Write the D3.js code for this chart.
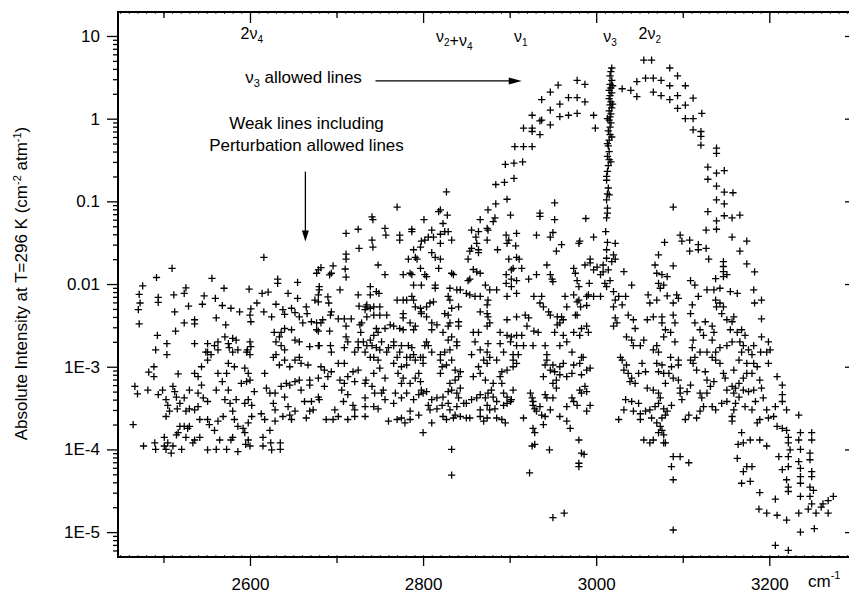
<!DOCTYPE html>
<html>
<head>
<meta charset="utf-8">
<script src="https://cdn.jsdelivr.net/npm/d3@7"></script>
<style>
  body { margin: 0; background: #fff; }
  svg { font-family: "Liberation Sans", Arial, sans-serif; }
</style>
</head>
<body>
<svg id="chart"></svg>
<script>
// line positions (cm-1) and absolute intensities

var nu3Q = [
  [3018,4.1],[3017,3.7],[3016,3.3],[3018,2.9],[3016,2.6],[3017,2.35],[3015,2.2],[3018,2.05],[3016,1.9],[3015,1.75],
  [3017,1.6],[3016,1.47],[3018,1.35],[3015,1.24],[3017,1.14],[3016,1.05],[3015,0.96],[3017,0.89],[3016,0.79],[3014,0.71],
  [3016,0.64],[3015,0.55],[3014,0.47],[3015,0.40],[3013,0.35],[3015,0.32],[3014,0.27],[3013,0.23],[3012,0.18],[3014,0.145],
  [3013,0.123],[3012,0.104],[3013,0.083],[3012,0.063],[3011,0.043],[3013,0.032],[3012,0.026],
  [3019,2.5],[3019,1.5],[3013,1.0],[3018,0.6],[3013,0.5],[3017,0.3],[3012,0.2],[3015,0.12],[3013,0.072]
];

var strongLines = [
  [2978,2.9],[2987,2.6],[2956,2.55],[2947,2.1],[2937,1.7],[2958,1.5],[2968,1.8],[2978,1.8],[2987,1.6],[2947,1.27],
  [2937,0.96],[2926,1.1],[2926,0.77],[2916,0.77],[2935,0.64],[2958,1.06],[2968,1.1],[2978,1.16],[2997,1.1],[2999,0.77],
  [2947,0.84],[2916,0.46],[2926,0.46],[2906,0.46],[2935,0.94],[2926,0.70],
  [2895,0.28],[2905,0.29],[2915,0.30],[2884,0.16],[2894,0.17],[2905,0.19],[2827,0.13],[2897,0.106],[2884,0.093],[2875,0.079],
  [2883,0.063],[2881,0.057],[2901,0.068],[2952,0.096],[2935,0.072],[2935,0.066],[2952,0.060],[2988,0.062],
  [3030,2.3],[3040,2.2],[3047,2.8],[3047,1.85],[3055,5.1],[3064,5.1],[3057,3.1],[3066,3.1],[3075,2.9],[3085,4.1],
  [3094,3.3],[3066,2.1],[3075,1.9],[3085,2.5],[3085,1.7],[3094,1.9],[3103,2.5],[3094,1.33],[3103,1.46],[3112,1.77],
  [3103,1.0],[3112,1.0],[3122,1.16],[3112,0.73],[3121,0.70],[3121,0.61],[3121,0.48],[3139,0.44],[3139,0.38],
  [3129,0.26],[3129,0.185],[3139,0.22],[3148,0.235],[3139,0.153],[3148,0.129],[3158,0.127],[3139,0.104],[3148,0.093],
  [3129,0.075],[3139,0.058],[3148,0.067],[3157,0.063],[3166,0.068],[3127,0.045],[3139,0.046],[3157,0.037],[3174,0.033],
  [3166,0.025],[3174,0.0175],[3183,0.014]
];

var weakLow = [
  [2725,0.046],[2711,0.041],[2726,0.027],[2616,0.021],[2711,0.023],[2711,0.020],[2510,0.0155],[2492,0.012],[2476,0.0095],[2472,0.0075],
  [2473,0.0059],[2471,0.0049],[2494,0.0069],[2494,0.0060],[2512,0.0074],[2513,0.0046],[2526,0.009],[2524,0.0077],[2529,0.0054],[2524,0.0034],
  [2536,0.0037],[2536,0.0033],[2472,0.0033],[2514,0.0027],[2493,0.0024],[2491,0.0016],[2504,0.0019],[2504,0.0014],[2536,0.0019],[2547,0.0072],
  [2545,0.0057],[2556,0.0117],[2570,0.0089],[2560,0.0067],[2561,0.0039],[2568,0.0055],[2572,0.0032],[2578,0.0051],[2588,0.0046],[2599,0.0087],
  [2601,0.0050],[2600,0.0042],[2601,0.0035],[2608,0.0059],[2614,0.0077],[2621,0.008],[2616,0.0046],[2632,0.0115],[2632,0.0102],[2630,0.0057],
  [2625,0.0040],[2638,0.0049],[2640,0.0043],[2644,0.0077],[2648,0.0051],[2652,0.0045],[2655,0.0105],[2655,0.0067],[2665,0.0053],[2666,0.0044],
  [2661,0.0034],[2657,0.0040],[2679,0.0148],[2682,0.0158],[2677,0.0135],[2696,0.0166],[2694,0.0135],[2692,0.0129],[2710,0.0152],[2711,0.0121],
  [2704,0.0085],[2680,0.0093],[2680,0.0085],[2679,0.0074],[2675,0.0064],[2679,0.0061],[2690,0.0070],[2691,0.0059],[2694,0.0046],[2693,0.0042],
  [2671,0.0035],[2677,0.0034],[2682,0.0034],[2684,0.0037],[2702,0.0038],[2709,0.0038],[2717,0.0038],[2711,0.0031],[2725,0.0074],[2726,0.0054],
  [2727,0.0032],[2728,0.0026],[2734,0.0053],[2677,0.0028],[2679,0.0027],[2692,0.0027],[2640,0.0029],[2636,0.0026],[2634,0.0023],[2630,0.0020],
  [2628,0.0026],[2648,0.0028],[2652,0.0021],[2657,0.0020],[2669,0.00175],[2680,0.0018],[2693,0.0018],[2694,0.0015],[2709,0.0017],[2713,0.0020],
  [2711,0.0023],[2725,0.0020],[2725,0.0017],[2721,0.0015],[2733,0.0015],[2600,0.0020],[2601,0.00175],[2597,0.0016],[2596,0.0015],[2600,0.0014],
  [2580,0.0022],[2584,0.0021],[2575,0.0019],[2571,0.0023],[2563,0.0020],[2559,0.0018],[2563,0.0016],[2551,0.0019],[2549,0.0015],[2551,0.0015],
  [2576,0.0017],[2580,0.0015],[2586,0.0016],
  [2489,0.0010],[2483,8.6e-4],[2489,7.6e-4],[2517,8.2e-4],[2467,5.8e-4],[2470,4.7e-4],[2482,5.2e-4],[2465,2.0e-4],[2494,4.6e-4],[2499,5.2e-4],
  [2503,4.0e-4],[2511,5.8e-4],[2513,5.0e-4],[2515,4.3e-4],[2505,3.4e-4],[2507,2.9e-4],[2503,2.5e-4],[2516,3.1e-4],[2519,3.6e-4],[2524,4.2e-4],
  [2530,5.2e-4],[2540,4.8e-4],[2526,2.9e-4],[2530,3.1e-4],[2536,3.0e-4],[2540,3.3e-4],[2544,6.0e-4],[2546,4.2e-4],[2551,3.8e-4],[2536,8.3e-4],
  [2540,7.6e-4],[2544,0.0010],[2551,0.0012],[2555,0.0014],[2563,8.3e-4],[2573,8.3e-4],[2561,5.2e-4],[2575,0.0011],[2582,0.0010],[2568,6.6e-4],
  [2575,5.2e-4],[2571,4.0e-4],[2577,3.6e-4],[2580,2.9e-4],[2582,2.3e-4],[2594,3.6e-4],[2598,4.0e-4],[2602,3.4e-4],[2584,4.0e-4],[2594,9.6e-4],
  [2598,8.3e-4],[2600,6.9e-4],[2590,6.3e-4],[2596,6.6e-4],[2605,5.0e-4],[2617,8.3e-4],[2619,5.5e-4],[2613,2.7e-4],[2617,2.3e-4],[2602,2.5e-4],
  [2598,2.1e-4],[2592,1.8e-4],[2594,1.6e-4],[2586,1.9e-4],[2598,1.3e-4],[2600,1.1e-4],[2595,1.15e-4],[2586,9.4e-5],[2578,1.3e-4],[2580,1.4e-4],
  [2573,1.0e-4],[2565,1.3e-4],[2561,1.0e-4],[2551,9.9e-5],[2559,1.7e-4],[2553,2.0e-4],[2551,2.3e-4],[2569,2.5e-4],[2563,2.2e-4],[2542,2.3e-4],
  [2542,1.4e-4],[2534,1.2e-4],[2536,1.3e-4],[2528,1.8e-4],[2526,1.4e-4],[2521,1.0e-4],[2511,1.1e-4],[2509,9.0e-5],[2515,1.5e-4],[2517,1.6e-4],
  [2519,1.9e-4],[2524,1.9e-4],[2530,1.9e-4],[2501,1.4e-4],[2501,1.1e-4],[2503,1.0e-4],[2490,1.2e-4],[2491,1.0e-4],[2477,1.1e-4],[2505,1.2e-4],
  [2615,1.4e-4],[2615,1.1e-4],[2624,1.2e-4],[2625,9.9e-5],[2635,1.2e-4],[2635,1.0e-4],[2623,1.7e-4],[2629,2.2e-4],[2629,3.0e-4],[2627,3.6e-4],
  [2623,4.8e-4],[2629,4.8e-4],[2636,5.8e-4],[2642,6.3e-4],[2646,6.0e-4],[2640,4.3e-4],[2644,3.3e-4],[2646,2.6e-4],[2638,2.5e-4],[2648,2.3e-4],
  [2652,2.9e-4],[2634,0.00105],[2640,0.0012],[2646,0.0010],[2636,0.0018],[2640,0.0016],[2630,0.0014],[2627,0.0013],[2652,0.0012],[2659,0.0011],
  [2667,0.00105],[2657,0.0013],[2652,6.6e-4],[2657,6.9e-4],[2669,6.9e-4],[2659,5.2e-4],[2663,3.8e-4],[2671,3.8e-4],[2669,6.0e-4],[2673,3.0e-4],
  [2669,2.9e-4],[2665,2.4e-4],[2679,0.0018],[2679,4.3e-4],[2680,4.0e-4],[2682,0.0010],[2686,9.1e-4],[2694,8.7e-4],[2690,7.6e-4],[2702,0.0011],
  [2709,0.0011],[2704,6.9e-4],[2709,6.3e-4],[2713,7.6e-4],[2706,5.2e-4],[2713,4.6e-4],[2708,3.8e-4],[2698,3.0e-4],[2702,2.5e-4],[2713,2.3e-4],
  [2688,2.3e-4],[2696,2.3e-4],[2721,2.5e-4],[2721,3.0e-4],[2719,3.4e-4],[2733,2.5e-4],[2733,3.3e-4],[2733,4.2e-4],[2719,8.7e-4],[2725,9.1e-4],
  [2734,6.9e-4],[2733,6.3e-4],[2721,6.6e-4],[2679,7.3e-4],[2686,5.8e-4]
];

var weakMid = [
  [2770,0.085],[2741,0.065],[2742,0.060],[2801,0.060],[2820,0.079],[2818,0.075],[2828,0.068],[2823,0.054],[2756,0.047],[2757,0.039],
  [2773,0.039],[2773,0.034],[2787,0.046],[2787,0.043],[2810,0.045],[2812,0.037],[2806,0.037],[2802,0.034],[2798,0.033],[2820,0.040],
  [2825,0.043],[2829,0.043],[2833,0.034],[2820,0.031],[2741,0.034],[2742,0.028],[2856,0.045],[2864,0.043],[2874,0.047],[2875,0.045],
  [2874,0.034],[2866,0.060],[2861,0.037],[2862,0.031],[2856,0.027],[2886,0.026],[2897,0.031],[2899,0.034],[2896,0.039],[2908,0.041],
  [2907,0.029],[2931,0.039],[2950,0.042],[2947,0.037],[2960,0.030],[2954,0.025],[2981,0.033],[2980,0.031],[2997,0.037],
  [2789,0.026],[2791,0.021],[2793,0.020],[2797,0.0155],[2783,0.020],[2785,0.0135],[2787,0.013],[2777,0.013],[2797,0.028],[2810,0.024],
  [2814,0.021],[2820,0.020],[2818,0.0155],[2833,0.0135],[2835,0.013],[2748,0.017],[2756,0.013],[2802,0.013],[2804,0.0123],[2852,0.020],
  [2854,0.025],[2864,0.024],[2864,0.026],[2858,0.015],[2862,0.014],[2866,0.0135],[2852,0.011],[2854,0.0115],[2899,0.020],[2902,0.0148],
  [2904,0.0155],[2914,0.0155],[2911,0.020],[2908,0.021],[2896,0.013],[2896,0.0102],[2902,0.0115],[2908,0.011],[2922,0.0115],[2931,0.013],
  [2943,0.017],[2947,0.013],[2949,0.0115],[2950,0.0107],[2974,0.0155],[2976,0.0135],[2978,0.011],[2980,0.0093],[2987,0.017],[2993,0.018],
  [2993,0.020],[3001,0.016],[2997,0.0148],[3008,0.014],[3005,0.013],[3010,0.0102],[3012,0.0093],[2992,0.0102],[2991,0.0074],[2997,0.0071],
  [3005,0.0071],[2980,0.0064],[2989,0.0055],[2982,0.0053],[2976,0.0042],[2739,0.0093],[2746,0.0081],[2749,0.0077],[2739,0.0074],[2735,0.0056],
  [2739,0.0051],[2743,0.0053],[2750,0.0053],[2733,0.0049],[2735,0.0040],[2743,0.0042],[2750,0.0042],[2758,0.0042],[2770,0.0064],[2777,0.0064],
  [2781,0.0064],[2787,0.0071],[2789,0.0064],[2791,0.0053],[2789,0.0097],[2798,0.0097],[2814,0.0097],[2814,0.0089],[2831,0.0089],[2839,0.0085],
  [2843,0.0085],[2808,0.0059],[2812,0.0061],[2804,0.0053],[2797,0.0051],[2798,0.0046],[2829,0.0071],[2831,0.0064],[2841,0.0053],[2833,0.0051],
  [2777,0.0044],[2777,0.0039],[2785,0.0034],[2791,0.0031],[2789,0.0028],[2777,0.0028],[2773,0.0029],[2766,0.0031],[2798,0.0044],[2804,0.0040],
  [2810,0.0034],[2816,0.0032],[2810,0.0028],[2825,0.0044],[2829,0.0042],[2831,0.0034],[2829,0.0031],[2841,0.0035],[2841,0.0031],[2850,0.0077],
  [2854,0.0074],[2860,0.0071],[2866,0.0071],[2872,0.0097],[2877,0.0085],[2875,0.0064],[2874,0.0056],[2866,0.0046],[2874,0.0044],[2875,0.0040],
  [2877,0.0034],[2874,0.0031],[2885,0.0085],[2897,0.0071],[2908,0.0077],[2902,0.0093],[2897,0.0037],[2908,0.0040],[2918,0.0042],[2922,0.0039],
  [2928,0.0071],[2937,0.0071],[2935,0.0059],[2939,0.0053],[2945,0.0046],[2947,0.0042],[2955,0.0040],[2960,0.0040],[2958,0.0034],[2955,0.0032],
  [2962,0.0037],[2964,0.0071],[2974,0.0074],[2978,0.0061],[2989,0.0071],[2978,0.0042],[2966,0.0053],[2952,0.0026],[2962,0.0024],[2974,0.0026],
  [2981,0.0024],[2991,0.0026],[2958,0.0018],[2966,0.0020],[2972,0.0015],[2983,0.0029],[2989,0.0031],[2983,0.0013],[2941,0.0018],[2943,0.0014],
  [2920,0.0031],[2928,0.0027],[2933,0.0026],[2914,0.0024],[2889,0.0026],[2897,0.0024],[2902,0.0023],[2908,0.0024],[2889,0.0019],[2901,0.0020],
  [2908,0.0018],[2916,0.0018],[2927,0.0018],[2893,0.0015],[2904,0.0014],[2910,0.0014],[2858,0.0026],[2864,0.0026],[2860,0.0020],[2866,0.0016],
  [2874,0.0015],[2875,0.0019],[2856,0.0014],[2823,0.0026],[2829,0.0021],[2833,0.0023],[2839,0.0020],[2839,0.0018],[2831,0.0016],[2825,0.0015],
  [2820,0.0014],[2804,0.0020],[2806,0.0018],[2802,0.0018],[2810,0.0015],[2800,0.0013],[2783,0.0018],[2787,0.0017],[2789,0.0014],[2781,0.0013],
  [2773,0.0015],[2775,0.0018],[2766,0.0020],[2766,0.0018],[2760,0.0017],[2758,0.0015],[2752,0.0020],[2748,0.0026],[2743,0.0024],[2739,0.0021],
  [2735,0.0018],[2731,0.0020],[2741,0.0018],[2746,0.0017],[2750,0.0016],[2739,0.0013],[2746,0.0029],[2756,0.0029],[2762,0.0032],[2729,0.0034]
];

var weakMidLow = [
  [2743,0.0013],[2748,0.0012],[2750,9.6e-4],[2743,8.3e-4],[2756,7.3e-4],[2754,5.2e-4],[2744,4.8e-4],[2743,3.3e-4],[2748,3.1e-4],[2756,4.0e-4],
  [2766,3.6e-4],[2741,5.8e-4],[2752,4.8e-4],[2760,2.2e-4],[2770,2.3e-4],[2775,2.4e-4],[2785,2.3e-4],[2779,2.1e-4],[2795,2.6e-4],[2785,2.9e-4],
  [2800,1.6e-4],[2810,2.1e-4],[2808,3.0e-4],[2806,3.4e-4],[2816,3.1e-4],[2766,0.0011],[2770,0.0013],[2775,0.0010],[2781,0.00105],[2785,0.0013],
  [2791,0.0012],[2797,0.0013],[2800,0.0011],[2771,8.3e-4],[2775,6.3e-4],[2777,7.3e-4],[2785,6.3e-4],[2781,4.8e-4],[2775,4.2e-4],[2768,4.8e-4],
  [2791,7.3e-4],[2795,8.3e-4],[2797,6.6e-4],[2798,5.2e-4],[2795,4.6e-4],[2800,4.8e-4],[2804,5.0e-4],[2789,4.0e-4],[2810,4.0e-4],[2816,4.2e-4],
  [2823,4.3e-4],[2822,3.4e-4],[2829,3.6e-4],[2831,3.0e-4],[2823,2.5e-4],[2827,2.3e-4],[2835,2.4e-4],[2837,2.6e-4],[2843,2.5e-4],[2850,2.4e-4],
  [2854,2.4e-4],[2839,3.3e-4],[2847,3.6e-4],[2820,0.0012],[2822,0.0010],[2820,8.3e-4],[2827,0.00105],[2833,0.0012],[2837,9.1e-4],[2843,8.7e-4],
  [2841,7.6e-4],[2837,6.9e-4],[2831,6.3e-4],[2833,5.2e-4],[2839,4.8e-4],[2841,4.2e-4],[2843,5.5e-4],[2829,5.0e-4],[2833,1.0e-4],[2833,4.9e-5],
  [2850,3.6e-4],[2856,4.0e-4],[2862,4.2e-4],[2866,4.6e-4],[2872,4.2e-4],[2875,4.8e-4],[2881,4.3e-4],[2879,5.2e-4],[2877,3.0e-4],[2883,3.1e-4],
  [2874,3.4e-4],[2866,3.0e-4],[2866,2.5e-4],[2874,2.4e-4],[2870,2.2e-4],[2885,2.4e-4],[2891,2.3e-4],[2895,2.1e-4],[2858,7.6e-4],[2866,8.3e-4],
  [2864,0.0010],[2870,0.0012],[2874,0.0011],[2877,0.0013],[2885,0.0012],[2872,6.9e-4],[2881,6.3e-4],[2889,7.6e-4],[2891,8.7e-4],[2897,9.1e-4],
  [2904,0.0010],[2904,0.0012],[2908,0.0011],[2891,6.3e-4],[2897,4.3e-4],[2904,5.2e-4],[2902,4.0e-4],[2893,4.8e-4],[2885,3.8e-4],[2893,3.4e-4],
  [2897,3.6e-4],[2901,3.8e-4],[2916,2.4e-4],[2927,1.8e-4],[2929,1.6e-4],[2924,4.8e-4],[2926,4.2e-4],[2927,3.4e-4],[2929,3.1e-4],[2931,2.9e-4],
  [2935,3.3e-4],[2937,2.6e-4],[2941,2.5e-4],[2947,3.0e-4],[2939,2.0e-4],[2927,3.8e-4],[2943,4.2e-4],[2941,4.6e-4],[2950,4.2e-4],[2954,5.5e-4],
  [2950,6.3e-4],[2958,2.5e-4],[2966,2.2e-4],[2966,3.3e-4],[2972,4.2e-4],[2974,3.8e-4],[2978,3.4e-4],[2983,4.8e-4],[2981,5.2e-4],[2989,5.0e-4],
  [2993,3.4e-4],[2989,2.9e-4],[2970,1.8e-4],[2980,1.3e-4],[2983,9.0e-5],[2986,8.7e-5],[2980,6.8e-5],[2980,6.2e-5],[2946,9.9e-5],[2926,1.1e-4],
  [2929,1.15e-4],[2923,5.2e-5],[2950,1.5e-5],[2963,1.7e-5],[2943,0.0012],[2941,0.00105],[2950,0.00105],[2958,0.0010],[2962,0.0011],[2985,0.0013],
  [2974,0.00105],[2972,8.3e-4],[2966,7.6e-4],[2958,8.0e-4],[2952,8.7e-4],[2947,9.1e-4],[2939,7.6e-4],[2954,6.9e-4],[2981,0.0011],[2989,9.1e-4],
  [2993,9.6e-4],[2983,8.0e-4],[2987,5.8e-4]
];

var weakHigh = [
  [3022,0.031],[3020,0.0225],[3022,0.020],[3018,0.0187],[3012,0.0205],[3008,0.017],[3014,0.0148],[3016,0.011],[3020,0.0081],[3022,0.0064],
  [3020,0.0053],[3026,0.0071],[3032,0.0141],[3034,0.0071],[3030,0.0056],[3041,0.0097],[3022,0.0039],[3024,0.0034],[3020,0.0031],[3037,0.0042],
  [3043,0.0037],[3045,0.0029],[3035,0.0023],[3041,0.0021],[3043,0.0018],[3051,0.0018],[3055,0.0021],[3028,0.0013],[3089,0.085],[3079,0.032],
  [3072,0.0225],[3068,0.017],[3070,0.0135],[3076,0.013],[3082,0.0123],[3089,0.0166],[3072,0.0102],[3078,0.0097],[3074,0.0089],[3060,0.0074],
  [3062,0.0059],[3070,0.0064],[3082,0.0072],[3093,0.0074],[3095,0.0067],[3089,0.0059],[3066,0.0040],[3059,0.0037],[3076,0.0040],[3076,0.0034],
  [3089,0.0042],[3091,0.0034],[3080,0.0028],[3086,0.0026],[3078,0.0023],[3091,0.0020],[3070,0.0018],[3066,0.0016],[3072,0.0015],[3086,0.0013],
  [3097,0.039],[3099,0.033],[3108,0.034],[3108,0.025],[3118,0.030],[3118,0.026],[3127,0.027],[3182,0.0085],[3183,0.0059],[3191,0.0064],
  [3191,0.0038],[3191,0.0023],[3199,0.0020],[3197,0.0015],[3130,0.020],[3147,0.0187],[3147,0.0163],[3147,0.0141],[3147,0.0123],[3138,0.0116],
  [3151,0.013],[3109,0.011],[3114,0.0097],[3118,0.0071],[3111,0.0056],[3109,0.0044],[3128,0.0085],[3136,0.0085],[3143,0.0089],[3138,0.0064],
  [3143,0.0059],[3147,0.0053],[3139,0.0053],[3155,0.0081],[3163,0.0077],[3145,0.0044],[3151,0.0037],[3157,0.0035],[3159,0.0040],[3114,0.0034],
  [3126,0.0035],[3120,0.0028],[3124,0.0024],[3134,0.0031],[3136,0.0026],[3134,0.0021],[3112,0.0021],[3111,0.0017],[3120,0.0015],[3128,0.0015],
  [3138,0.0015],[3143,0.0017],[3151,0.0018],[3157,0.0020],[3155,0.0028],[3163,0.0026],[3168,0.0028],[3172,0.0024],[3166,0.0020],[3170,0.0018],
  [3168,0.0015],[3176,0.0016],[3182,0.0018],[3180,0.0014],[3190,0.0015],[3201,0.0016]
];

var weakTail = [
  [3070,0.0011],[3076,0.00105],[3072,8.7e-4],[3078,8.3e-4],[3084,8.3e-4],[3087,0.0010],[3095,0.0012],[3095,0.00105],[3030,0.0012],[3035,0.00105],
  [3032,9.1e-4],[3037,8.3e-4],[3041,7.3e-4],[3045,6.3e-4],[3039,6.6e-4],[3049,8.3e-4],[3053,0.0011],[3057,8.7e-4],[3059,5.5e-4],[3066,5.2e-4],
  [3072,4.8e-4],[3074,4.2e-4],[3072,3.6e-4],[3068,3.3e-4],[3078,3.1e-4],[3082,2.9e-4],[3080,2.6e-4],[3076,2.4e-4],[3074,1.9e-4],[3076,1.7e-4],
  [3072,1.6e-4],[3078,1.5e-4],[3080,1.2e-4],[3066,1.3e-4],[3062,1.2e-4],[3055,1.3e-4],[3034,4.0e-4],[3041,3.8e-4],[3049,3.6e-4],[3032,3.0e-4],
  [3043,2.9e-4],[3051,2.7e-4],[3057,2.9e-4],[3062,3.0e-4],[3026,2.3e-4],[3051,2.3e-4],[3064,2.4e-4],[3070,2.1e-4],[3080,6.3e-4],[3089,7.3e-4],
  [3095,6.9e-4],[3097,4.8e-4],[3099,4.0e-4],[3087,3.4e-4],[3097,5.5e-4],[3103,2.3e-4],[3107,2.6e-4],[3116,2.4e-4],[3120,2.9e-4],[3124,3.3e-4],
  [3134,3.3e-4],[3138,3.0e-4],[3128,4.8e-4],[3132,5.8e-4],[3136,6.6e-4],[3128,6.9e-4],[3126,8.7e-4],[3116,9.1e-4],[3112,0.0011],[3109,0.0012],
  [3114,0.0013],[3134,0.0013],[3138,0.0012],[3143,0.0011],[3147,8.3e-4],[3149,7.3e-4],[3145,3.6e-4],[3151,3.8e-4],[3157,2.5e-4],[3157,2.2e-4],
  [3159,3.0e-4],[3161,3.6e-4],[3165,4.3e-4],[3161,5.5e-4],[3165,6.3e-4],[3170,7.3e-4],[3174,8.3e-4],[3159,9.1e-4],[3165,0.0012],[3174,0.0011],
  [3182,0.0011],[3186,0.0010],[3180,8.3e-4],[3199,0.0011],[3170,5.2e-4],[3176,5.0e-4],[3182,5.2e-4],[3189,6.9e-4],[3191,5.5e-4],[3193,4.2e-4],
  [3184,3.8e-4],[3180,3.0e-4],[3172,3.3e-4],[3168,1.6e-4],[3170,1.2e-4],[3164,1.15e-4],[3178,1.3e-4],[3189,1.3e-4],[3163,7.8e-5],[3174,6.2e-5],
  [3180,6.2e-5],[3170,5.4e-5],[3168,3.9e-5],[3178,4.1e-5],[3189,3.0e-5],[3197,1.1e-4],[3197,3.0e-4],[3189,2.3e-4],[3186,2.1e-4],[3199,2.4e-4],
  [3209,7.6e-4],[3215,6.0e-4],[3215,4.6e-4],[3215,3.8e-4],[3207,3.3e-4],[3205,2.5e-4],[3209,1.9e-4],[3215,1.8e-4],[3220,1.7e-4],[3222,1.4e-4],
  [3222,1.2e-4],[3224,9.9e-5],[3222,8.2e-5],[3211,8.2e-5],[3215,5.7e-5],[3222,6.2e-5],[3220,4.3e-5],[3222,3.5e-5],[3222,3.1e-5],[3236,1.6e-4],
  [3234,1.3e-4],[3236,1.0e-4],[3234,7.1e-5],[3236,5.9e-5],[3236,4.7e-5],[3236,3.9e-5],[3236,2.7e-5],[3220,3.0e-4],[3234,2.6e-4],[3249,1.6e-4],
  [3249,1.3e-4],[3247,9.0e-5],[3247,7.5e-5],[3249,5.4e-5],[3249,4.7e-5],[3247,3.5e-5],[3251,3.2e-5],[3247,2.7e-5],[3249,2.2e-5],[3245,1.9e-5],
  [3254,1.7e-5],[3252,1.1e-5],[3236,1.0e-5],[3234,1.7e-5],[3220,1.4e-5],[3209,1.6e-5],[3197,1.7e-5],[3188,1.9e-5],[3207,2.5e-5],[3262,2.2e-5],
  [3268,2.4e-5],[3274,2.7e-5],[3268,1.7e-5],[3260,2.0e-5],[3089,8.2e-5],[3097,8.2e-5],[3087,6.2e-5],[3089,4.3e-5],[3107,6.9e-5],[3089,1.06e-5],
  [3078,1.2e-4],[3109,6.0e-4],[3105,5.0e-4],[3120,4.8e-4],[3122,4.2e-4],[3151,5.2e-4],[3157,5.8e-4],[3159,4.8e-4],[3207,6.9e-6],[3222,6.0e-6]
];

var xTicks = [2600, 2800, 3000, 3200];
var yTicks = [1e-5, 1e-4, 1e-3, 0.01, 0.1, 1, 10];
var yTickLabels = ["1E-5", "1E-4", "1E-3", "0.01", "0.1", "1", "10"];
var bandLabels = ["2\u03bd_4", "\u03bd_2+\u03bd_4", "\u03bd_1", "\u03bd_3", "2\u03bd_2"];
var bandWn = [2602, 2836, 2913, 3016, 3062];

var W = 849, H = 593,
    plot = {left: 118, right: 851, top: 12, bottom: 557};

var svg = d3.select("#chart").attr("width", W).attr("height", H);

var x = d3.scaleLinear().domain([2447.5, 3294.4]).range([plot.left, plot.right]),
    y = d3.scaleLog().domain([5.0e-6, 19.5]).range([plot.bottom, plot.top]);

svg.append("clipPath").attr("id", "clip")
  .append("rect")
    .attr("x", plot.left).attr("y", plot.top)
    .attr("width", plot.right - plot.left).attr("height", plot.bottom - plot.top);

// minor tick positions
var minorY = [];
for (var e = -6; e <= 1; e++) {
  for (var k = 2; k <= 9; k++) {
    var v = k * Math.pow(10, e);
    if (v > y.domain()[0] && v < y.domain()[1]) minorY.push(v);
  }
}
var hundreds = d3.range(2500, 3300, 200);
var tens = d3.range(2450, 3295, 10);

function styleAxis(sel) {
  sel.select(".domain").remove();
  sel.selectAll("line").attr("stroke", "#000").attr("stroke-width", 1.3);
  sel.selectAll("text").attr("fill", "#000").style("font-size", "17px")
    .style("font-family", "'Liberation Sans', Arial, sans-serif");
}

// left axis
svg.append("g").attr("transform", "translate(" + plot.left + ",0)")
  .call(d3.axisLeft(y).tickValues(yTicks).tickSize(11).tickPadding(7)
    .tickFormat(function(d, i) { return yTickLabels[i]; }))
  .call(styleAxis);
svg.append("g").attr("transform", "translate(" + plot.left + ",0)")
  .call(d3.axisLeft(y).tickValues(minorY).tickSize(5).tickFormat(""))
  .call(styleAxis);

// right axis (ticks only, inward)
svg.append("g").attr("transform", "translate(" + plot.right + ",0)")
  .call(d3.axisLeft(y).tickValues(yTicks).tickSize(6).tickFormat(""))
  .call(styleAxis);

// bottom axis
svg.append("g").attr("transform", "translate(0," + plot.bottom + ")")
  .call(d3.axisBottom(x).tickValues(xTicks).tickSize(9).tickPadding(12).tickFormat(d3.format("d")))
  .call(styleAxis);
svg.append("g").attr("transform", "translate(0," + plot.bottom + ")")
  .call(d3.axisBottom(x).tickValues(hundreds).tickSize(6).tickFormat(""))
  .call(styleAxis);
svg.append("g").attr("transform", "translate(0," + plot.bottom + ")")
  .call(d3.axisTop(x).tickValues(tens).tickSize(2).tickFormat(""))
  .call(styleAxis)
  .selectAll("line").attr("stroke-width", 0.8);

// top axis, ticks inward
svg.append("g").attr("transform", "translate(0," + plot.top + ")")
  .call(d3.axisBottom(x).tickValues(xTicks).tickSize(11).tickFormat(""))
  .call(styleAxis);
svg.append("g").attr("transform", "translate(0," + plot.top + ")")
  .call(d3.axisBottom(x).tickValues(hundreds).tickSize(6).tickFormat(""))
  .call(styleAxis);
svg.append("g").attr("transform", "translate(0," + plot.top + ")")
  .call(d3.axisBottom(x).tickValues(tens).tickSize(2).tickFormat(""))
  .call(styleAxis)
  .selectAll("line").attr("stroke-width", 0.8);

// frame
svg.append("path")
  .attr("d", "M" + plot.right + "," + plot.top + "H" + plot.left + "V" + plot.bottom + "H" + plot.right)
  .attr("fill", "none").attr("stroke", "#000").attr("stroke-width", 2);

// data
var allLines = [].concat(weakLow, weakMid, weakMidLow, weakHigh, weakTail, strongLines, nu3Q);
svg.append("g").attr("clip-path", "url(#clip)")
  .selectAll(".pt")
  .data(allLines)
  .enter().append("path")
    .attr("class", "pt")
    .attr("d", "M-3.6,0H3.6M0,-3.6V3.6")
    .attr("transform", function(d) { return "translate(" + x(d[0]) + "," + y(d[1]) + ")"; })
    .attr("fill", "none")
    .attr("stroke", "#000")
    .attr("stroke-width", 1.3);

// band labels along the top
var bandBase = [38.5, 41.5, 41.5, 41.5, 38.5];
bandLabels.forEach(function(lab, i) {
  var t = svg.append("text")
    .attr("x", x(bandWn[i])).attr("y", bandBase[i])
    .attr("text-anchor", "middle")
    .style("font-size", "16px");
  lab.split(/_(\d)/).forEach(function(part, j) {
    if (!part) return;
    if (j % 2 === 1) {
      t.append("tspan").attr("dy", 4).style("font-size", "10px").text(part);
      t.append("tspan").attr("dy", -4).text("");
    } else {
      t.append("tspan").text(part);
    }
  });
});

// annotations
var ann = svg.append("g").style("font-size", "17px").attr("fill", "#000");
var t1 = ann.append("text").attr("x", 303.5).attr("y", 83).attr("text-anchor", "middle");
t1.append("tspan").text("\u03bd");
t1.append("tspan").attr("dy", 4).style("font-size", "11px").text("3");
t1.append("tspan").attr("dy", -4).text(" allowed lines");
ann.append("text").attr("x", 306.5).attr("y", 129).attr("text-anchor", "middle").text("Weak lines including");
ann.append("text").attr("x", 306.5).attr("y", 151).attr("text-anchor", "middle").text("Perturbation allowed lines");

// arrows
var hx0 = x(2745), hx1 = x(2914), hy = y(2.86);
ann.append("line").attr("x1", hx0).attr("x2", hx1 - 10).attr("y1", hy).attr("y2", hy)
  .attr("stroke", "#000").attr("stroke-width", 1.3);
ann.append("path")
  .attr("d", "M" + hx1 + "," + hy + "L" + (hx1 - 13) + "," + (hy - 3.5) + "L" + (hx1 - 13) + "," + (hy + 3.5) + "Z")
  .attr("fill", "#000");
var vx = x(2664), vy0 = y(0.229), vy1 = y(0.0326);
ann.append("line").attr("x1", vx).attr("x2", vx).attr("y1", vy0).attr("y2", vy1 - 8)
  .attr("stroke", "#000").attr("stroke-width", 1.3);
ann.append("path")
  .attr("d", "M" + vx + "," + vy1 + "L" + (vx - 3.5) + "," + (vy1 - 11) + "L" + (vx + 3.5) + "," + (vy1 - 11) + "Z")
  .attr("fill", "#000");

// axis titles
var yt = svg.append("text")
  .attr("transform", "translate(27,283.5) rotate(-90)")
  .attr("text-anchor", "middle")
  .style("font-size", "17px");
yt.append("tspan").text("Absolute Intensity at T=296 K (cm");
yt.append("tspan").attr("dy", -6).style("font-size", "11px").text("-2");
yt.append("tspan").attr("dy", 6).text(" atm");
yt.append("tspan").attr("dy", -6).style("font-size", "11px").text("-1");
yt.append("tspan").attr("dy", 6).text(")");

var xt = svg.append("text").attr("x", 808).attr("y", 587).style("font-size", "17px");
xt.append("tspan").text("cm");
xt.append("tspan").attr("dy", -8).style("font-size", "11px").text("-1");
</script>
</body>
</html>
